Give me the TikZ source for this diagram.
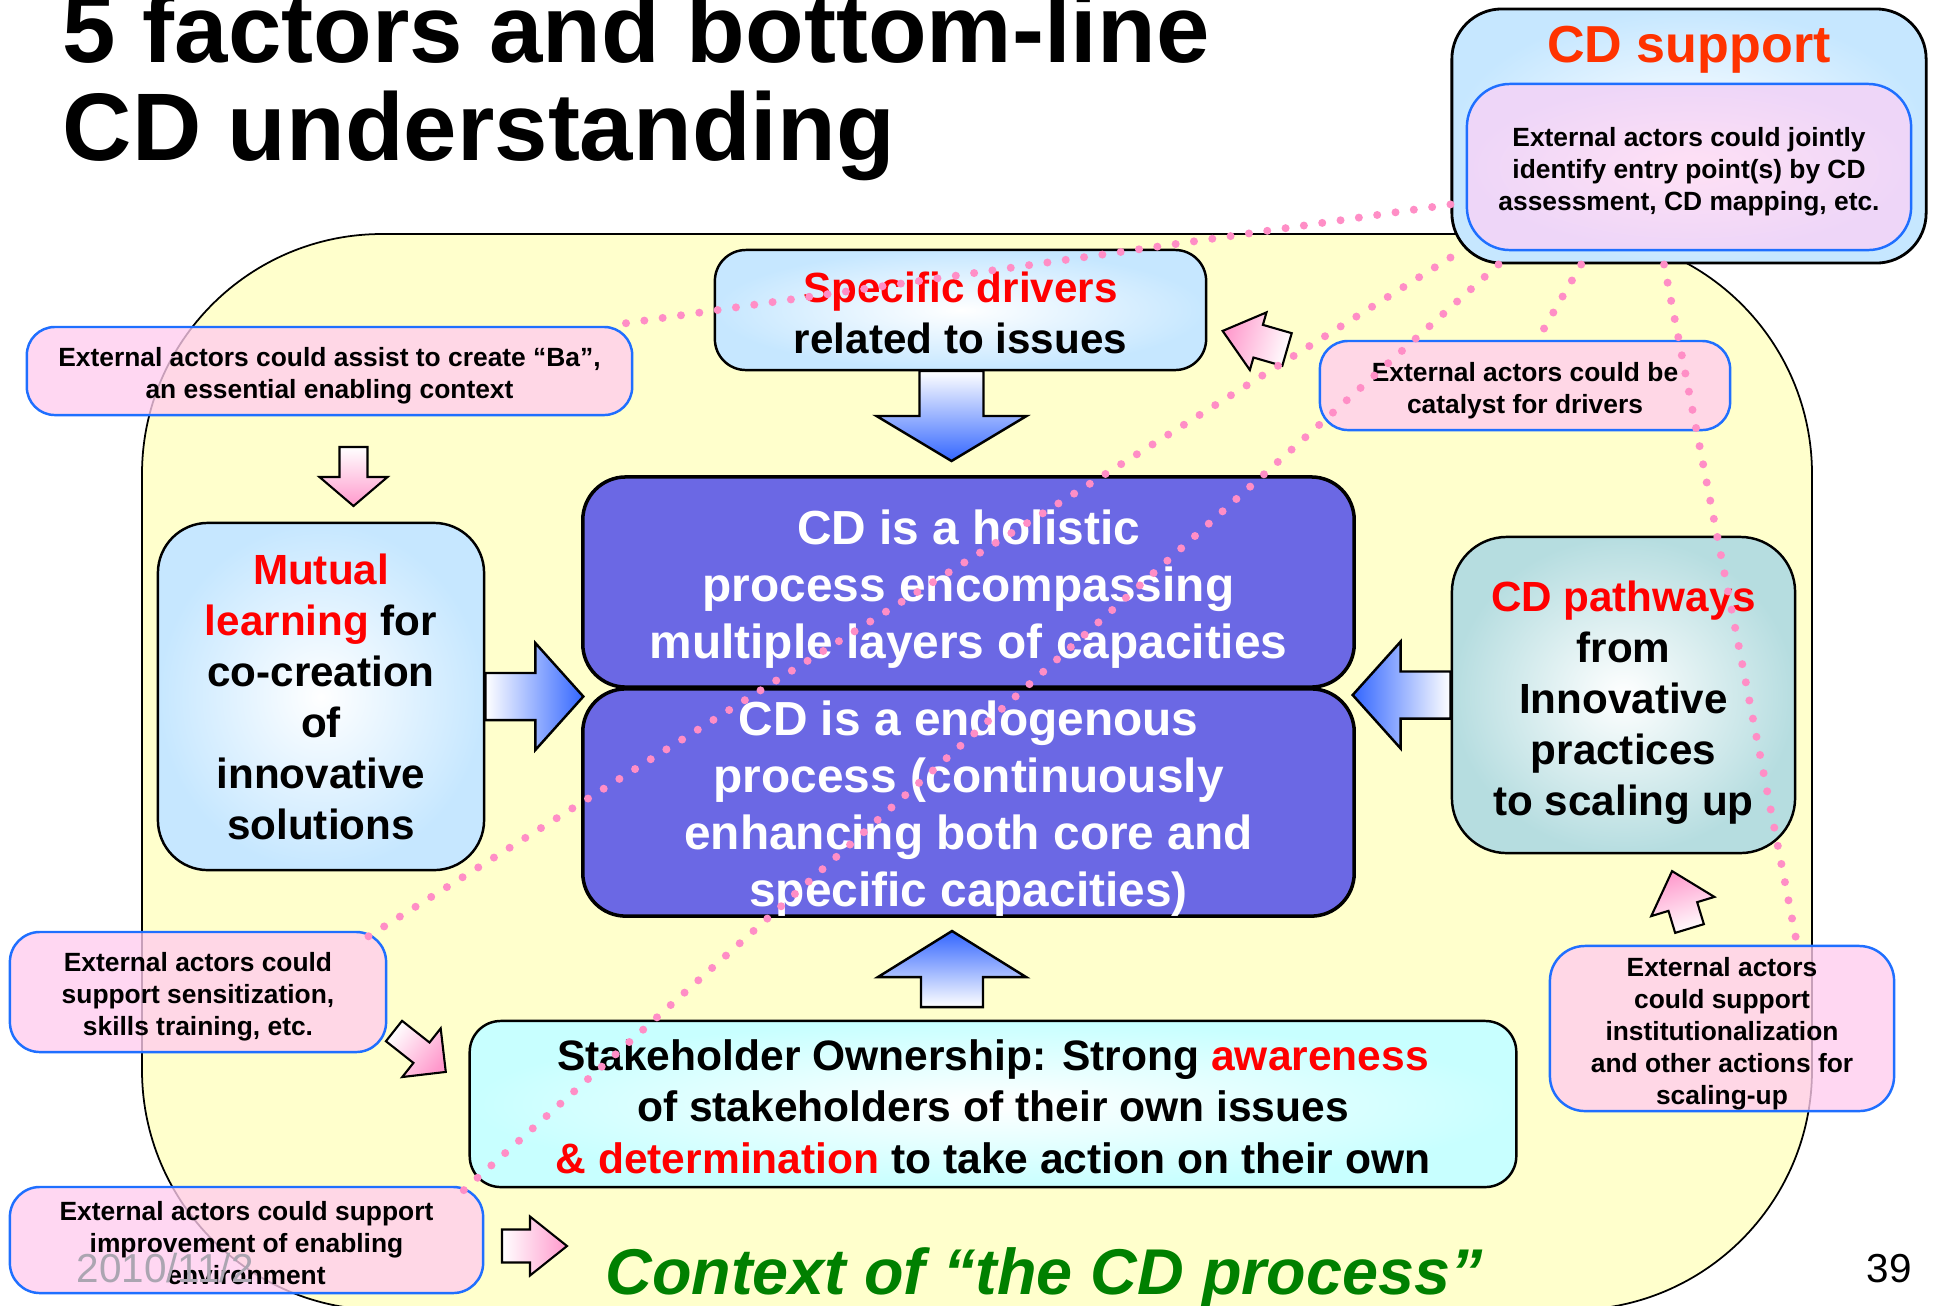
\documentclass[tikz,border=0pt]{standalone}
\usepackage{fontspec}
\setmainfont{Liberation Sans}
\usetikzlibrary{calc}

\definecolor{ctxyellow}{HTML}{FFFFCC}
\definecolor{boxblue}{HTML}{C6E7FF}
\definecolor{boxteal}{HTML}{B6DDE0}
\definecolor{boxcyan}{HTML}{C8FFFF}
\definecolor{cdpurple}{HTML}{6B68E4}
\definecolor{notepink}{HTML}{FFCCEE}
\definecolor{notelilac}{HTML}{EED6F8}
\definecolor{noteblue}{HTML}{1F6FFF}
\definecolor{dotpink}{HTML}{FF8EC6}
\definecolor{arrowpink}{HTML}{FF99CC}
\definecolor{arrowblue}{HTML}{3366FF}
\definecolor{supportred}{HTML}{FF3300}
\definecolor{ctxgreen}{HTML}{008000}
\definecolor{dategray}{HTML}{ABA5B1}

\tikzset{
  factorbox/.style={draw=black, line width=0.7pt, rounded corners=#1, inner sep=0pt,
    align=center, font=\bfseries\fontsize{12}{14.5}\selectfont},
  factorbox/.default=0.31cm,
  corebox/.style={draw=black, line width=1pt, fill=cdpurple, rounded corners=0.43cm,
    inner sep=0pt, align=center, text=white, font=\bfseries\fontsize{13.6}{16.2}\selectfont},
  notebox/.style={draw=noteblue, line width=0.7pt, fill=notepink, fill opacity=0.78,
    text opacity=1, rounded corners=0.28cm, inner sep=0pt, align=center,
    font=\bfseries\fontsize{7.5}{9.1}\selectfont},
  supportlink/.style={draw=dotpink, line width=0.08cm, line cap=round,
    dash pattern=on 0pt off 0.185cm},
  pinkarrow/.style={draw=black, line width=0.6pt, top color=arrowpink, bottom color=white},
  bluearrow/.style={draw=black, line width=0.7pt, top color=arrowblue, bottom color=white},
  titletxt/.style={anchor=base west, inner sep=0pt, font=\bfseries\fontsize{27.3}{33}\selectfont}
}

% raises the top of a text block, so that its lines sit lower in the box
\newcommand{\lift}[1]{\rule{0pt}{#1}}

% tail, angle, length, head length, shaft half width, head half width, style
\newcommand{\blockarrow}[7]{%
  \pgfmathsetmacro{\shadeangle}{#2-90}%
  \begin{scope}[shift={#1}, rotate=#2]
    \draw[#7, shading angle=\shadeangle] (0,-#5) -- (#3-#4,-#5) -- (#3-#4,-#6) -- (#3,0)
      -- (#3-#4,#6) -- (#3-#4,#5) -- (0,#5) -- cycle;
  \end{scope}}

\begin{document}
\begin{tikzpicture}[x=0.01cm, y=-0.01cm]
  \path[use as bounding box, clip] (0,0) rectangle (1933,1305);

  % context of the process
  \draw[fill=ctxyellow, line width=0.5pt, rounded corners=2.4cm] (142,234) rectangle (1812,1310);

  \node[titletxt] (title1) at (62,62) {5 factors and bottom-line};
  \node[titletxt] (title2) at (62,160) {CD understanding};

  % CD support
  \node[factorbox=0.5cm, line width=0.8pt, inner color=white, outer color=boxblue,
    minimum width=4.74cm, minimum height=2.54cm] (support) at (1689,136) {};
  \node[anchor=base, inner sep=0pt, text=supportred, font=\bfseries\fontsize{14.8}{17}\selectfont]
    (supporttitle) at (1689,62) {CD support};
  \node[notebox, fill opacity=1, inner color=white!40!notepink, outer color=notelilac,
    rounded corners=0.43cm, minimum width=4.44cm, minimum height=1.66cm] (supportin) at (1689,167)
    {\lift{8pt}External actors could jointly\\identify entry point(s) by CD\\assessment, CD mapping, etc.};

  % the five factors
  \node[factorbox, inner color=white, outer color=boxblue, minimum width=4.91cm, minimum height=1.2cm]
    (drivers) at (960.5,310) {\lift{10.2pt}\textcolor{red}{Specific drivers}\\related to issues};
  \node[factorbox=0.5cm, inner color=white, outer color=boxblue, minimum width=3.26cm, minimum height=3.47cm]
    (mutual) at (321,696.5)
    {\textcolor{red}{Mutual}\\\textcolor{red}{learning} for\\co-creation\\of\\innovative\\solutions};
  \node[factorbox=0.55cm, inner color=white, outer color=boxteal, minimum width=3.43cm, minimum height=3.16cm]
    (pathways) at (1623.5,695)
    {\lift{13pt}\textcolor{red}{CD pathways}\\from\\Innovative\\practices\\to scaling up};
  \node[factorbox, inner color=white, outer color=boxcyan, minimum width=10.46cm, minimum height=1.66cm,
    font=\bfseries\fontsize{12.1}{14.6}\selectfont] (owner) at (993,1104)
    {\lift{10.2pt}Stakeholder Ownership: Strong \textcolor{red}{awareness}\\of stakeholders of their own issues\\
     \textcolor{red}{\& determination} to take action on their own};

  \blockarrow{(951.5,371)}{-90}{90}{45}{32}{75}{bluearrow}
  \blockarrow{(952,1007)}{90}{76}{46}{31}{74}{bluearrow}
  \blockarrow{(mutual.east)}{0}{98}{48}{23.5}{53.5}{bluearrow}
  \blockarrow{(pathways.west)}{180}{98}{48}{23.5}{53.5}{bluearrow}

  % CD core
  \node[corebox, minimum width=7.71cm, minimum height=2.1cm] (holistic) at (968.5,582)
    {\lift{13.8pt}CD is a holistic\\process encompassing\\multiple layers of capacities};
  \node[corebox, minimum width=7.71cm, minimum height=2.25cm] (endogenous) at (968.5,802.5)
    {\lift{13.2pt}CD is a endogenous\\process (continuously\\enhancing both core and\\specific capacities)};

  % external actors
  \node[notebox, minimum width=6.05cm, minimum height=0.88cm] (ba) at (329.5,371)
    {\lift{8pt}External actors could assist to create “Ba”,\\an essential enabling context};
  \node[notebox, minimum width=4.10cm, minimum height=0.89cm] (catalyst) at (1525,385.5)
    {\lift{8.6pt}External actors could be\\catalyst for drivers};
  \node[notebox, rounded corners=0.3cm, minimum width=3.76cm, minimum height=1.2cm] (sensit) at (198,992)
    {\lift{8pt}External actors could\\support sensitization,\\skills training, etc.};
  \node[notebox, rounded corners=0.3cm, minimum width=4.73cm, minimum height=1.06cm] (improve) at (246.5,1240)
    {\lift{7.3pt}External actors could support\\improvement of enabling\\environment};
  \node[notebox, rounded corners=0.35cm, minimum width=3.44cm, minimum height=1.65cm] (inst) at (1722,1028.5)
    {\lift{8.6pt}External actors\\could support\\institutionalization\\and other actions for\\scaling-up};
  \node[dategray, anchor=base west, inner sep=0pt, font=\fontsize{11.5}{13}\selectfont] (date) at (76,1282) {2010/11/2};

  \blockarrow{(353.5,447)}{-90}{59}{29}{14}{34}{pinkarrow}
  \blockarrow{(1287,349.5)}{163.9}{67}{37}{17}{30}{pinkarrow}
  \blockarrow{(394,1031)}{-38.3}{66}{31}{13}{31}{pinkarrow}
  \blockarrow{(1689.5,928.5)}{106.9}{60}{37}{15}{33}{pinkarrow}
  \blockarrow{(502,1246)}{0}{65}{37}{16.5}{29.5}{pinkarrow}

  \node[anchor=base, inner sep=0pt, text=ctxgreen, font=\bfseries\itshape\fontsize{18.4}{22}\selectfont]
    (context) at (1044,1294) {Context of “the CD process”};
  \node[anchor=base, inner sep=0pt, font=\fontsize{11.5}{13}\selectfont] (pageno) at (1889,1282) {39};

  % support links
  \draw[supportlink] (support.196) -- ($(ba.north east)+(-25,0)$);
  \draw[supportlink] (support.207) -- ($(sensit.north east)+(-26,10)$);
  \draw[supportlink] (support.214) -- ($(improve.north east)+(-28,11)$);
  \draw[supportlink] (support.230) -- ($(catalyst.north)+(16,-6)$);
  \draw[supportlink] (support.259) -- ($(inst.north)+(74,-6)$);
\end{tikzpicture}
\end{document}
